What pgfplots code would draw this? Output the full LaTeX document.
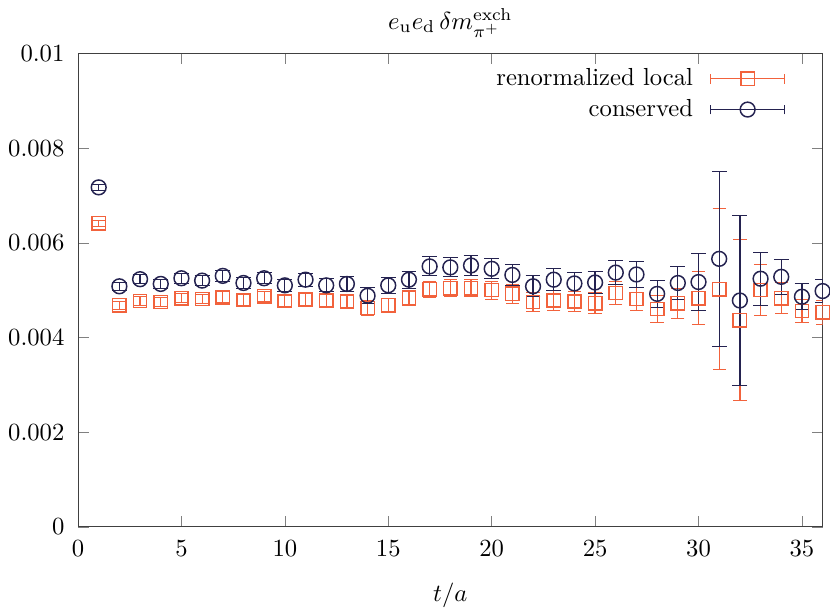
\documentclass[border=0pt]{standalone}
\usepackage{pgfplots}
\usepackage{pgfplotstable}
\pgfplotsset{compat=1.18}
\definecolor{loc}{RGB}{242,98,60}
\definecolor{con}{RGB}{36,34,80}

\pgfplotstableread{
t y e
1 0.00641 0.00006
2 0.00468 0.00008
3 0.00477 0.00009
4 0.00475 0.00009
5 0.00483 0.0001
6 0.00481 0.0001
7 0.00485 0.00011
8 0.00479 0.00011
9 0.00487 0.00011
10 0.00477 0.00012
11 0.00480 0.00012
12 0.00478 0.00013
13 0.00476 0.00013
14 0.00462 0.00015
15 0.00468 0.00015
16 0.00483 0.00016
17 0.00502 0.00017
18 0.00504 0.00018
19 0.00504 0.00018
20 0.00500 0.00019
21 0.00492 0.0002
22 0.00475 0.0002
23 0.00478 0.00021
24 0.00476 0.00022
25 0.00472 0.00022
26 0.00494 0.00024
27 0.00481 0.00025
28 0.00460 0.00028
29 0.00472 0.00032
30 0.00483 0.00056
31 0.00502 0.0017
32 0.00436 0.0017
33 0.00500 0.00054
34 0.00483 0.00033
35 0.00456 0.00025
36 0.00453 0.00025
}\localdata

\pgfplotstableread{
t y e
1 0.00717 0.00006
2 0.00508 0.00009
3 0.00523 0.0001
4 0.00513 0.0001
5 0.00525 0.00011
6 0.00520 0.00011
7 0.00530 0.00012
8 0.00515 0.00012
9 0.00525 0.00012
10 0.00510 0.00013
11 0.00522 0.00014
12 0.00510 0.00014
13 0.00513 0.00015
14 0.00488 0.00017
15 0.00510 0.00017
16 0.00522 0.00018
17 0.00550 0.0002
18 0.00548 0.0002
19 0.00552 0.00021
20 0.00545 0.00021
21 0.00532 0.00022
22 0.00508 0.00022
23 0.00522 0.00023
24 0.00514 0.00024
25 0.00516 0.00024
26 0.00537 0.00026
27 0.00533 0.00027
28 0.00492 0.00028
29 0.00515 0.00035
30 0.00517 0.0006
31 0.00566 0.00185
32 0.00478 0.0018
33 0.00524 0.00056
34 0.00528 0.00037
35 0.00486 0.00028
36 0.00498 0.00025
}\consdata

\pgfplotsset{
  ebleg/.style={
    legend image code/.code={
      \draw[mark=none] (0cm,0cm) -- (1.05cm,0cm);
      \draw[mark=none] (0cm,-0.07cm) -- (0cm,0.07cm);
      \draw[mark=none] (1.05cm,-0.07cm) -- (1.05cm,0.07cm);
      \draw[only marks] plot coordinates {(0.525cm,0cm)};
    }
  }
}

\begin{document}
\begin{tikzpicture}
\begin{axis}[
  scale only axis,
  width=302pt, height=192pt,
  xmin=0, xmax=36, ymin=0, ymax=0.01,
  xtick={0,5,...,35},
  ytick={0,0.002,0.004,0.006,0.008,0.01},
  scaled y ticks=false,
  yticklabel style={/pgf/number format/fixed,/pgf/number format/precision=3, xshift=-2pt},
  xticklabel style={yshift=-2pt},
  tick align=inside,
  axis line style={black!75},
  title={$e_{\mathrm{u}}e_{\mathrm{d}}\,\delta m_{\pi^+}^{\mathrm{exch}}$},
  title style={yshift=-3pt},
  xlabel={$t/a$},
  xlabel style={yshift=-4pt},
  legend style={at={(0.96,0.99)}, anchor=north east, draw=none, fill=none, row sep=0pt, column sep=5pt},
  legend cell align=right,
  legend plot pos=right,
]
\addplot[loc, only marks, mark=square, mark size=2.7pt, mark options={line width=0.6pt}, ebleg,
  error bars/.cd, y dir=both, y explicit, error bar style={loc, line width=0.5pt}]
  table[x=t, y=y, y error=e] {\localdata};
\addlegendentry{renormalized local}
\addplot[con, only marks, mark=o, mark size=3pt, mark options={line width=0.6pt}, ebleg,
  error bars/.cd, y dir=both, y explicit, error bar style={con, line width=0.5pt}]
  table[x=t, y=y, y error=e] {\consdata};
\addlegendentry{conserved}
\end{axis}
\end{tikzpicture}
\end{document}
